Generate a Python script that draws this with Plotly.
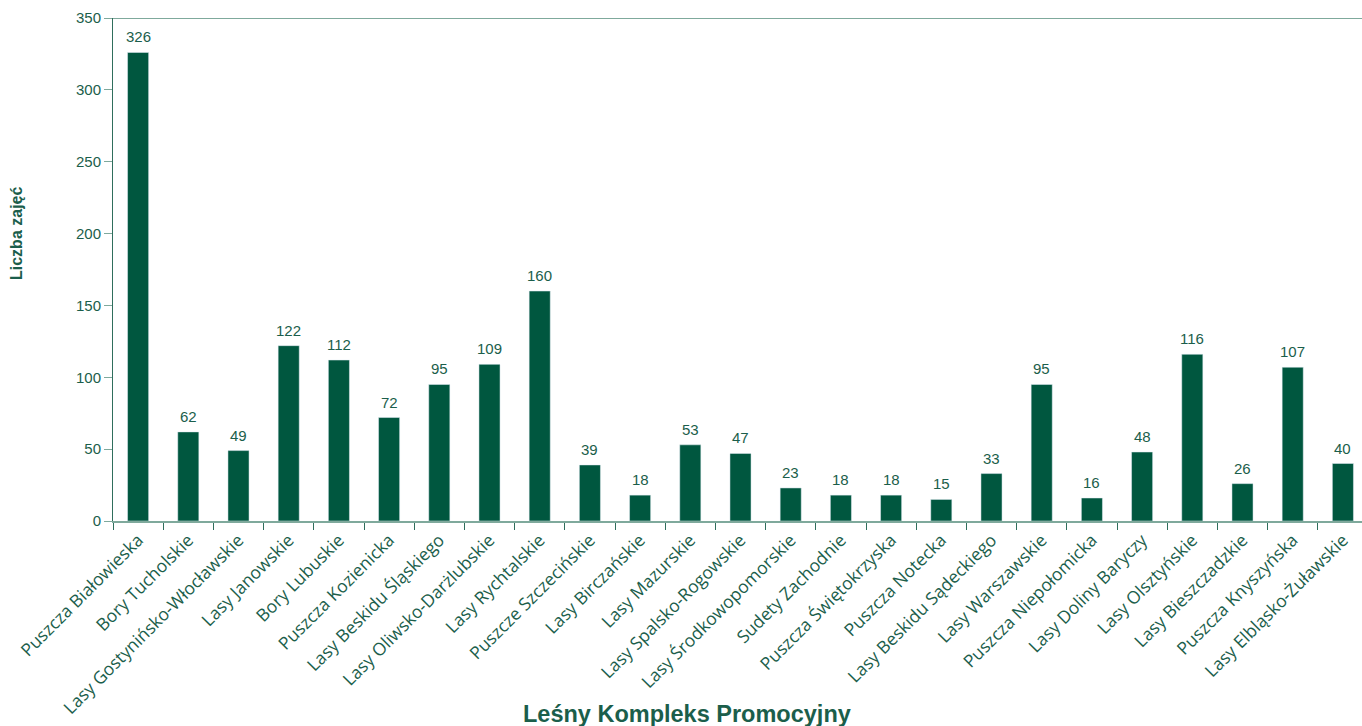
import plotly.graph_objects as go

CATEGORIES = [
    "Puszcza Białowieska", "Bory Tucholskie", "Lasy Gostynińsko-Włocławskie",
    "Lasy Janowskie", "Bory Lubuskie", "Puszcza Kozienicka",
    "Lasy Beskidu Śląskiego", "Lasy Oliwsko-Darżlubskie", "Lasy Rychtalskie",
    "Puszcze Szczecińskie", "Lasy Birczańskie", "Lasy Mazurskie",
    "Lasy Spalsko-Rogowskie", "Lasy Środkowopomorskie", "Sudety Zachodnie",
    "Puszcza Świętokrzyska", "Puszcza Notecka", "Lasy Beskidu Sądeckiego",
    "Lasy Warszawskie", "Puszcza Niepołomicka", "Lasy Doliny Baryczy",
    "Lasy Olsztyńskie", "Lasy Bieszczadzkie", "Puszcza Knyszyńska",
    "Lasy Elbląsko-Żuławskie",
]
VALUES = [326, 62, 49, 122, 112, 72, 95, 109, 160, 39, 18, 53, 47, 23, 18,
          18, 15, 33, 95, 16, 48, 116, 26, 107, 40]
Y_TICKS = [0, 50, 100, 150, 200, 250, 300, 350]

BAR = "#00573f"
TXT = "#1b5e4b"
AXIS = "#7fa99c"
SANS = "Liberation Sans, Arial"

# plot area in pixels: x 113..1368 (runs past the window edge), y 18..521
W, H = 1368, 726
L, T, B = 113, 18, 205
PW, PH = W - L, H - T - B

fig = go.Figure()
fig.add_trace(go.Bar(x=CATEGORIES, y=VALUES, marker_color=BAR, width=0.42,
                     hoverinfo="x+y"))
# value labels, a few px above each bar
for cat, val in zip(CATEGORIES, VALUES):
    fig.add_annotation(x=cat, y=val, text=str(val), showarrow=False,
                       yanchor="bottom", yshift=5,
                       font=dict(family=SANS, size=15, color=TXT))
fig.add_shape(type="line", xref="paper", yref="y", x0=0, x1=1, y0=350, y1=350,
              line=dict(color=AXIS, width=2))

fig.add_annotation(text="<b>Leśny Kompleks Promocyjny</b>", xref="paper", yref="paper",
                   x=(687 - L) / PW, y=(H - B - 714) / PH, showarrow=False,
                   xanchor="center", yanchor="middle",
                   font=dict(family=SANS, size=23.5, color=TXT))
fig.add_annotation(text="<b>Liczba zajęć</b>", xref="paper", yref="paper",
                   x=(16 - L) / PW, y=(H - B - 234) / PH, showarrow=False,
                   xanchor="center", yanchor="middle",
                   textangle=-90, font=dict(family=SANS, size=16, color=TXT))

fig.update_layout(
    width=W, height=H,
    margin=dict(l=L, r=0, t=T, b=B, autoexpand=False),
    paper_bgcolor="white", plot_bgcolor="white",
    showlegend=False,
    font=dict(family=SANS, color=TXT),
    xaxis=dict(
        range=[-0.5, len(CATEGORIES) - 0.5],
        tickangle=-45, ticks="outside", tickson="boundaries", ticklen=7,
        tickcolor="#2f6e5c", showline=True, linecolor=AXIS, linewidth=2,
        automargin=False,
        tickfont=dict(family="Open Sans", size=17.5, color=TXT),
    ),
    yaxis=dict(
        range=[0, 350], tickvals=Y_TICKS, showgrid=False, zeroline=False,
        ticks="outside", ticklen=8, tickcolor=AXIS, automargin=False,
        showline=True, linecolor="#2f6e5c", linewidth=1,
        tickfont=dict(family=SANS, size=15, color=TXT),
    ),
)

fig.write_html("out.html", config={"displayModeBar": False}, post_script=(
    "document.body.style.margin='0';"
    "document.body.style.overflow='hidden';"
))
